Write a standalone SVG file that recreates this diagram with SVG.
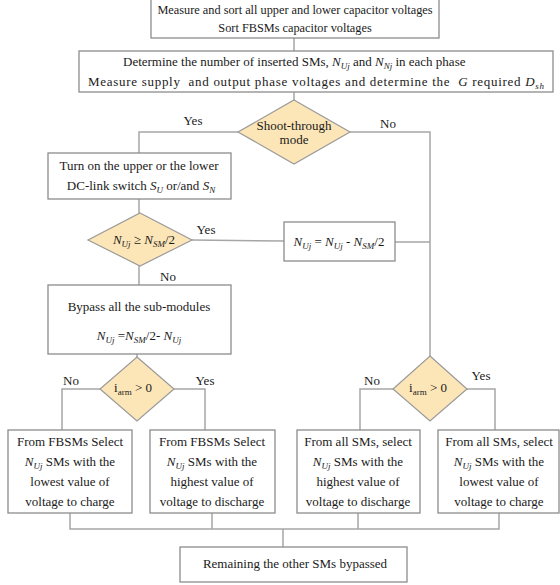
<svg xmlns="http://www.w3.org/2000/svg" width="560" height="585" viewBox="0 0 560 585">
<style>
.box{fill:#fff;stroke:#8c8c8c;stroke-width:1.3}
.dia{fill:#fce6b8;stroke:#9a9a9a;stroke-width:1.2}
.ln{fill:none;stroke:#a6a6a6;stroke-width:1.5}
text{font-family:"Liberation Serif","Times New Roman",serif;font-size:13px;fill:#1a1a1a}
.c{text-anchor:middle}
.i{font-style:italic}
.s{font-size:9px;font-style:italic}
.sn{font-size:9px}
</style>
<g id="connectors">
<polyline class="ln" points="294,38 294,51"/>
<polyline class="ln" points="294,92 294,100"/>
<polyline class="ln" points="238,132 139,132 139,153"/>
<polyline class="ln" points="350,132 430,132 430,356"/>
<polyline class="ln" points="139,199 139,213"/>
<polyline class="ln" points="192,240 284,241"/>
<polyline class="ln" points="395,242 430,242"/>
<polyline class="ln" points="139,266 139,285"/>
<polyline class="ln" points="137,354 137,357"/>
<polyline class="ln" points="100,389 62,389 62,430"/>
<polyline class="ln" points="174,389 205,389 205,430"/>
<polyline class="ln" points="393,389 360,389 360,430"/>
<polyline class="ln" points="467,389 495,389 495,430"/>
<polyline class="ln" points="70,513 70,529 499,529 499,513"/>
<polyline class="ln" points="212,513 212,529"/>
<polyline class="ln" points="358,513 358,529"/>
<polyline class="ln" points="283,529 283,547"/>
</g>
<g id="n1">
<rect class="box" x="151" y="-1" width="288" height="39"/>
<text class="c" x="295" y="14" style="font-size:12.3px">Measure and sort all upper and lower capacitor voltages</text>
<text class="c" x="295" y="32" style="font-size:12.3px">Sort FBSMs capacitor voltages</text>
</g>
<g id="n2">
<rect class="box" x="79" y="51" width="474" height="41"/>
<text x="123" y="66">Determine the number of inserted SMs, <tspan class="i">N</tspan><tspan class="s" dy="3">Uj</tspan><tspan dy="-3"> and </tspan><tspan class="i">N</tspan><tspan class="s" dy="3">Nj</tspan><tspan dy="-3"> in each phase</tspan></text>
<text x="88" y="86" xml:space="preserve" textLength="456" lengthAdjust="spacing">Measure supply  and output phase voltages and determine the  <tspan class="i">G</tspan> required <tspan class="i">D</tspan><tspan class="s" dy="3">sh</tspan></text>
</g>
<g id="n3">
<polygon class="dia" points="294,100 350,132 294,164 238,132"/>
<text class="c" x="294" y="130">Shoot-through</text>
<text class="c" x="294" y="144">mode</text>
</g>
<g id="n4">
<rect class="box" x="48" y="153" width="183" height="46"/>
<text class="c" x="139" y="170">Turn on the upper or the lower</text>
<text class="c" x="141" y="190">DC-link switch <tspan class="i">S</tspan><tspan class="s" dy="3">U</tspan><tspan dy="-3"> or/and </tspan><tspan class="i">S</tspan><tspan class="s" dy="3">N</tspan></text>
</g>
<g id="n5">
<polygon class="dia" points="140,213 192,240 140,266 88,240"/>
<text class="c" x="144" y="244"><tspan class="i">N</tspan><tspan class="s" dy="3">Uj</tspan><tspan dy="-3"> ≥ </tspan><tspan class="i">N</tspan><tspan class="s" dy="3">SM</tspan><tspan dy="-3">/2</tspan></text>
</g>
<g id="n6">
<rect class="box" x="284" y="222" width="111" height="39"/>
<text class="c" x="339" y="246"><tspan class="i">N</tspan><tspan class="s" dy="3">Uj</tspan><tspan dy="-3"> = </tspan><tspan class="i">N</tspan><tspan class="s" dy="3">Uj</tspan><tspan dy="-3"> - </tspan><tspan class="i">N</tspan><tspan class="s" dy="3">SM</tspan><tspan dy="-3">/2</tspan></text>
</g>
<g id="n7">
<rect class="box" x="48" y="285" width="183" height="69"/>
<text class="c" x="139" y="311">Bypass all the sub-modules</text>
<text class="c" x="139" y="340"><tspan class="i">N</tspan><tspan class="s" dy="3">Uj</tspan><tspan dy="-3"> =</tspan><tspan class="i">N</tspan><tspan class="s" dy="3">SM</tspan><tspan dy="-3">/2- </tspan><tspan class="i">N</tspan><tspan class="s" dy="3">Uj</tspan></text>
</g>
<g id="n8">
<polygon class="dia" points="137,357 174,389 137,421 100,389"/>
<text class="c" x="133" y="392">i<tspan class="sn" dy="3">arm</tspan><tspan dy="-3"> &gt; 0</tspan></text>
</g>
<g id="n9">
<polygon class="dia" points="430,356 467,389 430,421 393,389"/>
<text class="c" x="428" y="392">i<tspan class="sn" dy="3">arm</tspan><tspan dy="-3"> &gt; 0</tspan></text>
</g>
<g id="n10">
<rect class="box" x="8" y="430" width="124" height="83"/>
<text class="c" x="70" y="446">From FBSMs Select</text>
<text class="c" x="70" y="466"><tspan class="i">N</tspan><tspan class="s" dy="3">Uj</tspan><tspan dy="-3">  SMs with the</tspan></text>
<text class="c" x="70" y="486">lowest value of</text>
<text class="c" x="70" y="506">voltage to charge</text>
</g>
<g id="n11">
<rect class="box" x="150" y="430" width="125" height="83"/>
<text class="c" x="212" y="446">From FBSMs Select</text>
<text class="c" x="212" y="466"><tspan class="i">N</tspan><tspan class="s" dy="3">Uj</tspan><tspan dy="-3"> SMs with the</tspan></text>
<text class="c" x="212" y="486">highest value of</text>
<text class="c" x="212" y="506">voltage to discharge</text>
</g>
<g id="n12">
<rect class="box" x="297" y="430" width="123" height="83"/>
<text class="c" x="358" y="446">From all SMs, select</text>
<text class="c" x="358" y="466"><tspan class="i">N</tspan><tspan class="s" dy="3">Uj</tspan><tspan dy="-3"> SMs with the</tspan></text>
<text class="c" x="358" y="486">highest value of</text>
<text class="c" x="358" y="506">voltage to discharge</text>
</g>
<g id="n13">
<rect class="box" x="438" y="430" width="121" height="83"/>
<text class="c" x="499" y="446">From all SMs, select</text>
<text class="c" x="499" y="466"><tspan class="i">N</tspan><tspan class="s" dy="3">Uj</tspan><tspan dy="-3"> SMs with the</tspan></text>
<text class="c" x="499" y="486">lowest value of</text>
<text class="c" x="499" y="506">voltage to charge</text>
</g>
<g id="n14">
<rect class="box" x="180" y="547" width="227" height="35"/>
<text class="c" x="295" y="568">Remaining the other SMs bypassed</text>
</g>
<g id="labels">
<text class="c" x="193" y="125">Yes</text>
<text class="c" x="388" y="128">No</text>
<text class="c" x="206" y="234">Yes</text>
<text class="c" x="168" y="281">No</text>
<text class="c" x="71" y="385">No</text>
<text class="c" x="205" y="385">Yes</text>
<text class="c" x="372" y="385">No</text>
<text class="c" x="481" y="380">Yes</text>
</g>
</svg>
